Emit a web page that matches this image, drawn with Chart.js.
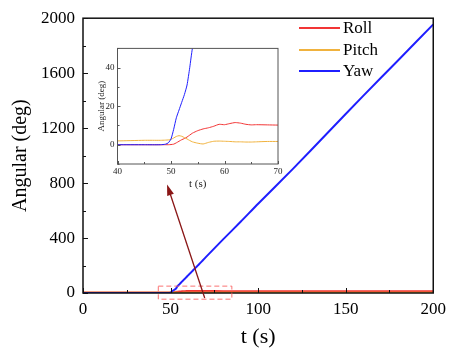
<!DOCTYPE html>
<html>
<head>
<meta charset="utf-8">
<script src="https://cdn.jsdelivr.net/npm/chart.js@4.4.1/dist/chart.umd.min.js"></script>
<style>
  html, body { margin: 0; padding: 0; background: #fff; }
  #wrap { position: relative; width: 452px; height: 360px; }
  #main { position: absolute; left: 0; top: 0; }
  #inset { position: absolute; left: 90px; top: 40px; }
</style>
</head>
<body>
<div id="wrap">
  <canvas id="main" width="452" height="360"></canvas>
  <canvas id="inset" width="195" height="155"></canvas>
</div>
<script>
// time (s) and angles (deg)
const t     = [0, 5, 10, 15, 20, 25, 30, 35, 40, 45, 48, 49, 49.5, 50, 50.5, 51, 51.5, 52, 52.5, 53, 53.5, 54, 55, 56, 57, 58, 59, 60, 61, 62, 63, 64, 65, 66, 68, 70, 80, 90, 100, 120, 140, 160, 180, 200];
const roll  = [0, 0, 0, 0, 0, 0, 0, 0, 0, 0, 0, 0, 0, 0.1, 0.3, 1, 1.8, 2.6, 3.2, 4, 5, 6, 7.3, 8.2, 8.8, 9.6, 10.6, 10.4, 11, 11.5, 11.2, 10.6, 10.3, 10.4, 10.3, 10.2, 10, 10, 10, 10, 10, 10, 10, 10];
const pitch = [2, 2.2, 2, 2.1, 2, 2.2, 2, 2.1, 2, 2.3, 2.3, 2.4, 2.5, 2.8, 3.5, 4.3, 4.7, 4.4, 3.7, 3, 2.2, 1.5, 0.8, 0.4, 1.2, 1.8, 1.9, 1.8, 1.7, 1.5, 1.5, 1.4, 1.4, 1.5, 1.7, 1.7, 1.8, 1.8, 1.8, 1.8, 1.8, 1.8, 1.8, 1.8];
const yaw   = [0, 0, 0, 0, 0, 0, 0, 0, 0, 0, 0, 0.3, 1, 3, 8, 14, 18, 22, 26, 31, 40, 50, 63, 76, 89, 102, 115, 128, 141, 154, 167, 180, 193, 206, 232, 259, 390, 518, 650, 905, 1170, 1435, 1694, 1955];

const seriesNames = ["Roll", "Pitch", "Yaw"];
const seriesColors = ["#f23535", "#f0b23e", "#1f1fff"];

const xTicksMain = [0, 50, 100, 150, 200];
const yTicksMain = [0, 400, 800, 1200, 1600, 2000];
const xTicksInset = [40, 50, 60, 70];
const yTicksInset = [0, 20, 40];

// zoom box + arrow, in main-chart data units
const zoomBox = {x0: 43, x1: 85, y0: -45, y1: 50};
const arrowFrom = {x: 69.5, y: -36};
const arrowTo = {x: 48, y: 790};

const serif = "'Liberation Serif', 'Times New Roman', serif";

function pts(arr) {
    return t.map((x, i) => ({x: x, y: arr[i]}));
}

function makeDatasets(widths) {
    return [roll, pitch, yaw].map((arr, i) => ({
        label: seriesNames[i],
        data: pts(arr),
        borderColor: seriesColors[i],
        backgroundColor: seriesColors[i],
        borderWidth: widths[i],
        pointRadius: 0,
        tension: 0.2,
        order: i === 2 ? 0 : 3 - i
    }));
}

const plain = v => String(v);

// box frame + inward ticks on bottom and left
const framePlugin = {
    id: 'frame',
    afterDatasetsDraw(chart, args, opts) {
        const {ctx, chartArea: a, scales: {x, y}} = chart;
        ctx.save();
        ctx.strokeStyle = opts.color;
        ctx.lineWidth = opts.lineWidth;
        ctx.strokeRect(a.left, a.top, a.right - a.left, a.bottom - a.top);
        ctx.lineWidth = 1;
        ctx.beginPath();
        for (let v = x.min; v <= x.max + 1e-6; v += opts.xMinor) {
            const px = Math.round(x.getPixelForValue(v)) + 0.5;
            const len = (Math.abs(v / opts.xMajor - Math.round(v / opts.xMajor)) < 1e-6) ? opts.major : opts.minor;
            ctx.moveTo(px, a.bottom);
            ctx.lineTo(px, a.bottom - len);
        }
        for (let v = y.min; v <= y.max + 1e-6; v += opts.yMinor) {
            const py = Math.round(y.getPixelForValue(v)) + 0.5;
            const len = (Math.abs(v / opts.yMajor - Math.round(v / opts.yMajor)) < 1e-6) ? opts.major : opts.minor;
            ctx.moveTo(a.left, py);
            ctx.lineTo(a.left + len, py);
        }
        ctx.stroke();
        ctx.restore();
    }
};

// legend in the top-right corner + zoom box and arrow
const mainExtras = {
    id: 'mainExtras',
    afterDraw(chart) {
        const {ctx, scales: {x, y}} = chart;
        ctx.save();
        // legend
        ctx.font = "17px " + serif;
        ctx.textBaseline = 'middle';
        ctx.textAlign = 'left';
        const rows = [28, 50, 71];
        seriesNames.forEach((name, i) => {
            ctx.strokeStyle = seriesColors[i];
            ctx.lineWidth = 2;
            ctx.beginPath();
            ctx.moveTo(299, rows[i]);
            ctx.lineTo(340, rows[i]);
            ctx.stroke();
            ctx.fillStyle = '#000';
            ctx.fillText(name, 343, rows[i] + 1);
        });
        // dashed zoom box
        const bx0 = x.getPixelForValue(zoomBox.x0), bx1 = x.getPixelForValue(zoomBox.x1);
        const by0 = y.getPixelForValue(zoomBox.y0), by1 = y.getPixelForValue(zoomBox.y1);
        ctx.strokeStyle = 'rgba(250,90,90,0.85)';
        ctx.lineWidth = 1;
        ctx.setLineDash([5, 3]);
        ctx.strokeRect(bx0, by1, bx1 - bx0, by0 - by1);
        ctx.setLineDash([]);
        // arrow
        const ax0 = x.getPixelForValue(arrowFrom.x), ay0 = y.getPixelForValue(arrowFrom.y);
        const ax1 = x.getPixelForValue(arrowTo.x), ay1 = y.getPixelForValue(arrowTo.y);
        const ang = Math.atan2(ay1 - ay0, ax1 - ax0);
        ctx.strokeStyle = '#8a1616';
        ctx.fillStyle = '#8a1616';
        ctx.lineWidth = 1.3;
        ctx.beginPath();
        ctx.moveTo(ax0, ay0);
        ctx.lineTo(ax1 - 8 * Math.cos(ang), ay1 - 8 * Math.sin(ang));
        ctx.stroke();
        ctx.beginPath();
        ctx.moveTo(ax1, ay1);
        ctx.lineTo(ax1 - 11 * Math.cos(ang) + 3.5 * Math.sin(ang), ay1 - 11 * Math.sin(ang) - 3.5 * Math.cos(ang));
        ctx.lineTo(ax1 - 11 * Math.cos(ang) - 3.5 * Math.sin(ang), ay1 - 11 * Math.sin(ang) + 3.5 * Math.cos(ang));
        ctx.closePath();
        ctx.fill();
        ctx.restore();
    }
};

const mainChart = new Chart(document.getElementById('main'), {
    type: 'line',
    data: {datasets: makeDatasets([3, 2, 2])},
    options: {
        responsive: false,
        animation: false,
        layout: {padding: {top: 13, right: 18, left: 0, bottom: 0}},
        plugins: {
            legend: {display: false},
            tooltip: {enabled: false},
            frame: {color: '#111', lineWidth: 1.5, xMinor: 25, xMajor: 50, yMinor: 200, yMajor: 400, major: 5, minor: 3}
        },
        scales: {
            x: {
                type: 'linear',
                min: 0, max: 200,
                grid: {display: false, drawTicks: false},
                border: {display: false},
                afterBuildTicks: s => { s.ticks = xTicksMain.map(v => ({value: v})); },
                afterFit: s => { s.height = 67; },
                ticks: {color: '#000', font: {family: serif, size: 17}, padding: 6, maxRotation: 0, callback: plain},
                title: {display: true, text: 't (s)', color: '#000', font: {family: serif, size: 22}, padding: {bottom: 10}}
            },
            y: {
                type: 'linear',
                min: 0, max: 2000,
                grid: {display: false, drawTicks: false},
                border: {display: false},
                afterBuildTicks: s => { s.ticks = yTicksMain.map(v => ({value: v})); },
                afterFit: s => { s.width = 83; },
                ticks: {color: '#000', font: {family: serif, size: 17}, padding: 8, callback: plain},
                title: {display: true, text: 'Angular (deg)', color: '#000', font: {family: serif, size: 20}, padding: {top: 9}}
            }
        }
    },
    plugins: [framePlugin, mainExtras]
});

const insetChart = new Chart(document.getElementById('inset'), {
    type: 'line',
    data: {datasets: makeDatasets([1, 1, 1])},
    options: {
        responsive: false,
        animation: false,
        layout: {padding: {top: 7, right: 7, left: 0, bottom: 0}},
        plugins: {
            legend: {display: false},
            tooltip: {enabled: false},
            frame: {color: '#555', lineWidth: 1, xMinor: 5, xMajor: 10, yMinor: 10, yMajor: 20, major: 3, minor: 2}
        },
        scales: {
            x: {
                type: 'linear',
                min: 40, max: 70,
                grid: {display: false, drawTicks: false},
                border: {display: false},
                afterBuildTicks: s => { s.ticks = xTicksInset.map(v => ({value: v})); },
                afterFit: s => { s.height = 31; },
                ticks: {color: '#222', font: {family: serif, size: 9}, padding: 2, maxRotation: 0, callback: plain},
                title: {display: true, text: 't (s)', color: '#222', font: {family: serif, size: 11}, padding: {bottom: 4}}
            },
            y: {
                type: 'linear',
                min: -10, max: 50,
                grid: {display: false, drawTicks: false},
                border: {display: false},
                afterBuildTicks: s => { s.ticks = yTicksInset.map(v => ({value: v})); },
                afterFit: s => { s.width = 27.5; },
                ticks: {color: '#222', font: {family: serif, size: 9}, padding: 3, callback: plain},
                title: {display: true, text: 'Angular (deg)', color: '#222', font: {family: serif, size: 9}, padding: {top: 6}}
            }
        }
    },
    plugins: [framePlugin]
});
</script>
</body>
</html>
